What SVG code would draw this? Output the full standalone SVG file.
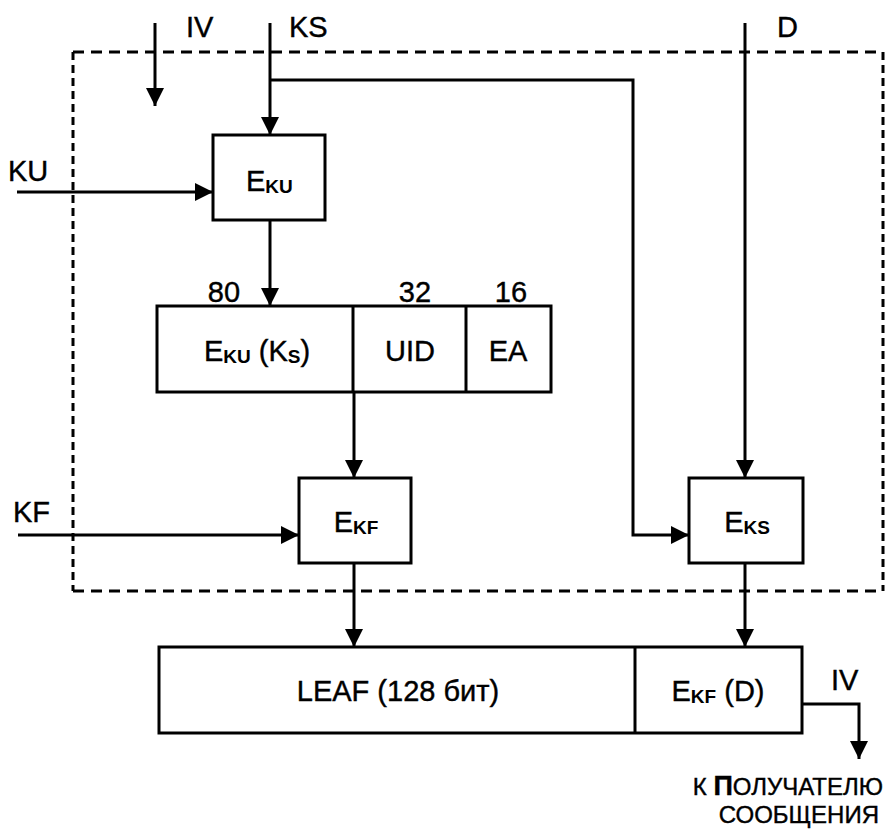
<svg xmlns="http://www.w3.org/2000/svg" width="886" height="830" viewBox="0 0 886 830">
<style>
  text { font-family: "Liberation Sans", Arial, sans-serif; font-size: 29px; fill: #000; stroke: #000; stroke-width: 0.4; }
  .sub { font-size: 19px; font-weight: bold; stroke-width: 0; }
  .box { fill: #fff; stroke: #000; stroke-width: 3; }
  .ln { fill: none; stroke: #000; stroke-width: 3; }
  .dh { fill: none; stroke: #000; stroke-width: 3; stroke-dasharray: 11 7; }
  .dv { fill: none; stroke: #000; stroke-width: 3; stroke-dasharray: 8 5; }
  .rc { font-size: 24px; }
</style>
<defs>
  <marker id="ah" markerWidth="18" markerHeight="18" refX="18" refY="9" orient="auto" markerUnits="userSpaceOnUse">
    <path d="M0,0 L18,9 L0,18 Z" fill="#000"/>
  </marker>
</defs>

<g id="boundary">
  <line class="dh" x1="73" y1="52" x2="883" y2="52"/>
  <line class="dh" x1="73" y1="591" x2="883" y2="591"/>
  <line class="dv" x1="73" y1="52" x2="73" y2="591"/>
  <line class="dv" x1="883" y1="52" x2="883" y2="591"/>
</g>

<g id="connectors">
  <line class="ln" x1="155" y1="23" x2="155" y2="106" marker-end="url(#ah)"/>
  <line class="ln" x1="270" y1="23" x2="270" y2="135" marker-end="url(#ah)"/>
  <polyline class="ln" points="270,80 633,80 633,535 689,535" marker-end="url(#ah)"/>
  <line class="ln" x1="745" y1="23" x2="745" y2="478" marker-end="url(#ah)"/>
  <line class="ln" x1="17" y1="192" x2="213" y2="192" marker-end="url(#ah)"/>
  <line class="ln" x1="270" y1="220" x2="270" y2="306" marker-end="url(#ah)"/>
  <line class="ln" x1="354" y1="392" x2="354" y2="478" marker-end="url(#ah)"/>
  <line class="ln" x1="18" y1="535" x2="299" y2="535" marker-end="url(#ah)"/>
  <line class="ln" x1="354" y1="563" x2="354" y2="647" marker-end="url(#ah)"/>
  <line class="ln" x1="745" y1="563" x2="745" y2="647" marker-end="url(#ah)"/>
  <polyline class="ln" points="802,704 859,704 859,759" marker-end="url(#ah)"/>
</g>

<g id="labels">
  <text x="186" y="37">IV</text>
  <text x="289" y="37">KS</text>
  <text x="777" y="37">D</text>
  <text x="8" y="181">KU</text>
  <text x="13" y="522">KF</text>
  <text x="831" y="690">IV</text>
  <text class="rc" x="883" y="795" text-anchor="end">К <tspan font-size="27" font-weight="bold">П</tspan>ОЛУЧАТЕЛЮ</text>
  <text class="rc" x="879" y="823" text-anchor="end">СООБЩЕНИЯ</text>
</g>

<g id="node-eku">
  <rect class="box" x="213" y="135" width="112" height="85"/>
  <text x="246" y="191">E<tspan class="sub" dy="2">KU</tspan></text>
</g>

<g id="node-block">
  <rect class="box" x="157" y="306" width="394" height="86"/>
  <line class="ln" x1="353" y1="306" x2="353" y2="392"/>
  <line class="ln" x1="466" y1="306" x2="466" y2="392"/>
  <text x="224" y="302" text-anchor="middle">80</text>
  <text x="415" y="302" text-anchor="middle">32</text>
  <text x="511" y="302" text-anchor="middle">16</text>
  <text x="257" y="361" text-anchor="middle">E<tspan class="sub" dy="2">KU</tspan><tspan dy="-2"> (K</tspan><tspan class="sub" dy="2">S</tspan><tspan dy="-2">)</tspan></text>
  <text x="410" y="361" text-anchor="middle">UID</text>
  <text x="508" y="361" text-anchor="middle">EA</text>
</g>

<g id="node-ekf">
  <rect class="box" x="299" y="478" width="112" height="85"/>
  <text x="356" y="532" text-anchor="middle">E<tspan class="sub" dy="2">KF</tspan></text>
</g>

<g id="node-eks">
  <rect class="box" x="689" y="478" width="114" height="85"/>
  <text x="747" y="532" text-anchor="middle">E<tspan class="sub" dy="2">KS</tspan></text>
</g>

<g id="node-leaf">
  <rect class="box" x="159" y="647" width="643" height="86"/>
  <line class="ln" x1="635" y1="647" x2="635" y2="733"/>
  <text x="398" y="701" text-anchor="middle">LEAF (128 бит)</text>
  <text x="718" y="701" text-anchor="middle">E<tspan class="sub" dy="2">KF</tspan><tspan dy="-2"> (D)</tspan></text>
</g>
</svg>
